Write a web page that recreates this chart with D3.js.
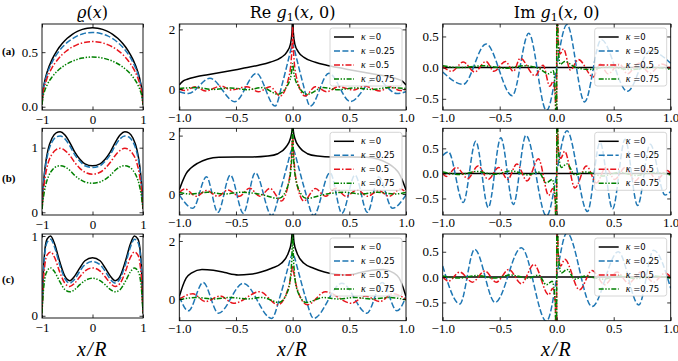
<!DOCTYPE html>
<html><head><meta charset="utf-8">
<script src="https://cdn.jsdelivr.net/npm/d3@7"></script>
<style>body{margin:0;background:#fff}</style>
</head><body>
<script>
// ---------------- DATA ----------------
const kappaLabels = ["0", "0.25", "0.5", "0.75"];
const rowLabels = ["(a)", "(b)", "(c)"];

// density rho(x): shared x grids per row + values per kappa
const rhoXA = [-1,-0.98,-0.95,-0.9,-0.8,-0.7,-0.6,-0.5,-0.4,-0.3,-0.2,-0.1,0,0.1,0.2,0.3,0.4,0.5,0.6,0.7,0.8,0.9,0.95,0.98,1];
const rhoA0  = [0.02,0.144,0.226,0.316,0.434,0.517,0.579,0.627,0.664,0.691,0.709,0.72,0.724,0.72,0.709,0.691,0.664,0.627,0.579,0.517,0.434,0.316,0.226,0.144,0.02];
const rhoA25 = [0.02,0.135,0.212,0.297,0.408,0.486,0.544,0.589,0.623,0.649,0.666,0.677,0.68,0.677,0.666,0.649,0.623,0.589,0.544,0.486,0.408,0.297,0.212,0.135,0.02];
const rhoA50 = [0.02,0.119,0.186,0.26,0.358,0.426,0.478,0.517,0.547,0.569,0.585,0.594,0.597,0.594,0.585,0.569,0.547,0.517,0.478,0.426,0.358,0.26,0.186,0.119,0.02];
const rhoA75 = [0.02,0.091,0.142,0.198,0.273,0.325,0.364,0.394,0.417,0.434,0.446,0.453,0.455,0.453,0.446,0.434,0.417,0.394,0.364,0.325,0.273,0.198,0.142,0.091,0.02];

const rhoXB = [-1,-0.97,-0.93,-0.88,-0.8,-0.72,-0.64,-0.55,-0.45,-0.35,-0.25,-0.15,0,0.15,0.25,0.35,0.45,0.55,0.64,0.72,0.8,0.88,0.93,0.97,1];
const rhoB0  = [0.05,0.45,0.75,0.97,1.15,1.23,1.245,1.2,1.08,0.93,0.82,0.75,0.72,0.75,0.82,0.93,1.08,1.2,1.245,1.23,1.15,0.97,0.75,0.45,0.05];
const rhoB25 = [0.05,0.42,0.71,0.92,1.09,1.165,1.18,1.14,1.03,0.89,0.79,0.72,0.695,0.72,0.79,0.89,1.03,1.14,1.18,1.165,1.09,0.92,0.71,0.42,0.05];
const rhoB50 = [0.05,0.34,0.58,0.76,0.9,0.97,0.99,0.96,0.88,0.77,0.68,0.62,0.59,0.62,0.68,0.77,0.88,0.96,0.99,0.97,0.9,0.76,0.58,0.34,0.05];
const rhoB75 = [0.05,0.24,0.41,0.54,0.65,0.705,0.72,0.705,0.65,0.57,0.51,0.47,0.45,0.47,0.51,0.57,0.65,0.705,0.72,0.705,0.65,0.54,0.41,0.24,0.05];

const rhoXC = [-1,-0.98,-0.95,-0.9,-0.83,-0.75,-0.65,-0.55,-0.45,-0.35,-0.25,-0.15,0,0.15,0.25,0.35,0.45,0.55,0.65,0.75,0.83,0.9,0.95,0.98,1];
const rhoC0  = [0.03,0.45,0.78,0.96,1.0,0.9,0.68,0.5,0.44,0.5,0.6,0.69,0.727,0.69,0.6,0.5,0.44,0.5,0.68,0.9,1.0,0.96,0.78,0.45,0.03];
const rhoC25 = [0.03,0.42,0.74,0.92,0.96,0.86,0.64,0.47,0.41,0.46,0.56,0.64,0.68,0.64,0.56,0.46,0.41,0.47,0.64,0.86,0.96,0.92,0.74,0.42,0.03];
const rhoC50 = [0.03,0.34,0.6,0.76,0.8,0.73,0.55,0.41,0.367,0.41,0.49,0.56,0.6,0.56,0.49,0.41,0.367,0.41,0.55,0.73,0.8,0.76,0.6,0.34,0.03];
const rhoC75 = [0.03,0.25,0.44,0.56,0.6,0.55,0.43,0.33,0.3,0.33,0.39,0.44,0.47,0.44,0.39,0.33,0.3,0.33,0.43,0.55,0.6,0.56,0.44,0.25,0.03];

// Re g1(x,0): [x, value] pairs
const reA0 = [[-1,0.14],[-0.97,0.26],[-0.93,0.33],[-0.85,0.41],[-0.75,0.48],[-0.6,0.58],[-0.5,0.65],[-0.4,0.72],[-0.3,0.8],[-0.2,0.9],[-0.1,1.06],[-0.05,1.25],[-0.02,1.5],[-0.006,1.9],[0,2.5],[0.006,1.9],[0.02,1.5],[0.05,1.25],[0.1,1.06],[0.2,0.9],[0.3,0.8],[0.4,0.72],[0.5,0.65],[0.6,0.58],[0.75,0.48],[0.85,0.41],[0.93,0.33],[0.97,0.26],[1,0.14]];
const reA25 = [[-1,-0.09],[-0.92,-0.15],[-0.73,0.36],[-0.51,-0.42],[-0.32,0.53],[-0.155,-0.57],[-0.09,0.2],[-0.04,0.95],[-0.01,1.4],[0,1.52],[0.01,1.4],[0.04,0.95],[0.09,0.2],[0.155,-0.57],[0.32,0.53],[0.51,-0.42],[0.73,0.36],[0.92,-0.15],[1,-0.09]];
const reA50 = [[-1,0],[-0.95,-0.05],[-0.86,0.08],[-0.77,-0.06],[-0.63,0.1],[-0.54,-0.03],[-0.405,0.08],[-0.3,-0.09],[-0.2,0.08],[-0.11,-0.23],[-0.04,0.3],[-0.012,1.0],[-0.003,1.7],[0,2.1],[0.003,1.7],[0.012,1.0],[0.04,0.3],[0.11,-0.23],[0.2,0.08],[0.3,-0.09],[0.405,0.08],[0.54,-0.03],[0.63,0.1],[0.77,-0.06],[0.86,0.08],[0.95,-0.05],[1,0]];
const reA75 = [[-1,0.02],[-0.85,0.05],[-0.7,-0.01],[-0.55,0.04],[-0.4,-0.02],[-0.27,0.05],[-0.13,-0.17],[-0.05,0.1],[-0.012,0.5],[0,0.85],[0.012,0.5],[0.05,0.1],[0.13,-0.17],[0.27,0.05],[0.4,-0.02],[0.55,0.04],[0.7,-0.01],[0.85,0.05],[1,0.02]];

const reB0 = [[-1,0.14],[-0.97,0.45],[-0.94,0.7],[-0.9,0.88],[-0.84,1.05],[-0.75,1.2],[-0.65,1.26],[-0.5,1.27],[-0.35,1.27],[-0.22,1.3],[-0.13,1.38],[-0.06,1.6],[-0.02,1.9],[-0.005,2.2],[0,2.5],[0.005,2.2],[0.02,1.9],[0.06,1.6],[0.13,1.38],[0.22,1.3],[0.35,1.27],[0.5,1.27],[0.65,1.26],[0.75,1.2],[0.84,1.05],[0.9,0.88],[0.94,0.7],[0.97,0.45],[1,0.14]];
const reB25 = [[-1,-0.03],[-0.88,-0.49],[-0.76,0.59],[-0.66,-0.63],[-0.55,0.65],[-0.435,-0.66],[-0.33,0.73],[-0.185,-0.74],[-0.11,0.1],[-0.05,0.95],[-0.01,1.5],[0,1.57],[0.01,1.5],[0.05,0.95],[0.11,0.1],[0.185,-0.74],[0.33,0.73],[0.435,-0.66],[0.55,0.65],[0.66,-0.63],[0.76,0.59],[0.88,-0.49],[1,-0.03]];
const reB50 = [[-1,0.05],[-0.95,0.17],[-0.85,-0.08],[-0.76,0.12],[-0.66,-0.08],[-0.57,0.14],[-0.47,-0.08],[-0.38,0.2],[-0.29,-0.08],[-0.2,0.19],[-0.1,-0.24],[-0.03,0.5],[-0.008,1.4],[0,1.95],[0.008,1.4],[0.03,0.5],[0.1,-0.24],[0.2,0.19],[0.29,-0.08],[0.38,0.2],[0.47,-0.08],[0.57,0.14],[0.66,-0.08],[0.76,0.12],[0.85,-0.08],[0.95,0.17],[1,0.05]];
const reB75 = [[-1,0.05],[-0.9,0],[-0.75,0.06],[-0.6,0],[-0.45,0.06],[-0.3,0],[-0.12,-0.15],[-0.04,0.3],[-0.008,1.2],[0,2.4],[0.008,1.2],[0.04,0.3],[0.12,-0.15],[0.3,0],[0.45,0.06],[0.6,0],[0.75,0.06],[0.9,0],[1,0.05]];

const reC0 = [[-1,0.08],[-0.97,0.45],[-0.94,0.72],[-0.89,0.9],[-0.8,1.02],[-0.7,0.99],[-0.6,0.91],[-0.48,0.83],[-0.38,0.85],[-0.28,0.93],[-0.185,1.06],[-0.1,1.23],[-0.04,1.57],[-0.012,1.95],[0,2.5],[0.012,1.95],[0.04,1.57],[0.1,1.23],[0.185,1.06],[0.28,0.93],[0.38,0.85],[0.48,0.83],[0.6,0.91],[0.7,0.99],[0.8,1.02],[0.89,0.9],[0.94,0.72],[0.97,0.45],[1,0.08]];
const reC25 = [[-1,0.08],[-0.92,-0.41],[-0.79,0.57],[-0.655,-0.49],[-0.435,0.54],[-0.185,-0.67],[-0.11,0.1],[-0.05,0.95],[-0.01,1.5],[0,1.58],[0.01,1.5],[0.05,0.95],[0.11,0.1],[0.185,-0.67],[0.435,0.54],[0.655,-0.49],[0.79,0.57],[0.92,-0.41],[1,0.08]];
const reC50 = [[-1,0],[-0.88,0.18],[-0.77,-0.09],[-0.64,0.1],[-0.52,-0.15],[-0.29,0.25],[-0.13,-0.2],[-0.04,0.35],[-0.01,0.9],[0,1.15],[0.01,0.9],[0.04,0.35],[0.13,-0.2],[0.29,0.25],[0.52,-0.15],[0.64,0.1],[0.77,-0.09],[0.88,0.18],[1,0]];
const reC75 = [[-1,-0.03],[-0.85,0.05],[-0.7,0],[-0.55,0.05],[-0.4,0],[-0.27,0.05],[-0.12,-0.12],[-0.04,0.3],[-0.008,1.3],[0,2.4],[0.008,1.3],[0.04,0.3],[0.12,-0.12],[0.27,0.05],[0.4,0],[0.55,0.05],[0.7,0],[0.85,0.05],[1,-0.03]];

// Im g1(x,0): [x, value] pairs
const imA0 = [[-1,0],[1,0]];
const imA25 = [[-1,-0.07],[-0.82,-0.27],[-0.62,0.38],[-0.39,-0.45],[-0.245,0.55],[-0.09,-0.69],[0.09,0.69],[0.245,-0.55],[0.39,0.45],[0.62,-0.38],[0.82,0.27],[1,0.07]];
const imA50 = [[-1,0.02],[-0.92,-0.06],[-0.82,0.09],[-0.72,-0.07],[-0.62,0.1],[-0.55,-0.06],[-0.45,0.1],[-0.38,-0.06],[-0.32,0.15],[-0.19,-0.13],[-0.12,0.04],[-0.06,-0.3],[-0.03,-0.22],[-0.012,-0.5],[-0.002,-3],[0.002,3],[0.012,0.5],[0.03,0.22],[0.06,0.3],[0.12,-0.04],[0.19,0.13],[0.32,-0.15],[0.38,0.06],[0.45,-0.1],[0.55,0.06],[0.62,-0.1],[0.72,0.07],[0.82,-0.09],[0.92,0.06],[1,-0.02]];
const imA75 = [[-1,0.03],[-0.85,0],[-0.65,0.03],[-0.45,-0.01],[-0.28,0.03],[-0.16,-0.01],[-0.07,-0.1],[-0.03,-0.05],[-0.01,-0.5],[-0.002,-3],[0.002,3],[0.01,0.5],[0.03,0.05],[0.07,0.1],[0.16,0.01],[0.28,-0.03],[0.45,0.01],[0.65,-0.03],[0.85,0],[1,-0.03]];

const imB0 = [[-1,0],[1,0]];
const imB25 = [[-1,0.36],[-0.95,0.43],[-0.82,-0.58],[-0.71,0.64],[-0.6,-0.68],[-0.49,0.71],[-0.38,-0.62],[-0.27,0.76],[-0.09,-0.85],[0.09,0.85],[0.27,-0.76],[0.38,0.62],[0.49,-0.71],[0.6,0.68],[0.71,-0.64],[0.82,0.58],[0.95,-0.43],[1,-0.36]];
const imB50 = [[-1,0],[-0.97,-0.06],[-0.88,0.12],[-0.78,-0.1],[-0.69,0.15],[-0.6,-0.12],[-0.51,0.12],[-0.43,-0.12],[-0.35,0.19],[-0.26,-0.15],[-0.16,0.29],[-0.07,-0.44],[-0.035,-0.3],[-0.012,-0.55],[-0.002,-3],[0.002,3],[0.012,0.55],[0.035,0.3],[0.07,0.44],[0.16,-0.29],[0.26,0.15],[0.35,-0.19],[0.43,0.12],[0.51,-0.12],[0.6,0.12],[0.69,-0.15],[0.78,0.1],[0.88,-0.12],[0.97,0.06],[1,0]];
const imB75 = [[-1,0.03],[-0.85,-0.02],[-0.7,0.04],[-0.55,-0.02],[-0.4,0.05],[-0.25,-0.03],[-0.16,0.03],[-0.09,-0.19],[-0.04,-0.12],[-0.012,-0.5],[-0.002,-3],[0.002,3],[0.012,0.5],[0.04,0.12],[0.09,0.19],[0.16,-0.03],[0.25,0.03],[0.4,-0.05],[0.55,0.02],[0.7,-0.04],[0.85,0.02],[1,-0.03]];

const imC0 = [[-1,0],[1,0]];
const imC25 = [[-1,0.22],[-0.85,-0.53],[-0.72,0.55],[-0.54,-0.5],[-0.31,0.58],[-0.09,-0.87],[0.09,0.87],[0.31,-0.58],[0.54,0.5],[0.72,-0.55],[0.85,0.53],[1,-0.22]];
const imC50 = [[-1,0],[-0.95,-0.08],[-0.85,0.1],[-0.74,-0.1],[-0.63,0.12],[-0.53,-0.1],[-0.42,0.15],[-0.31,-0.13],[-0.2,0.25],[-0.07,-0.35],[-0.035,-0.22],[-0.012,-0.5],[-0.002,-3],[0.002,3],[0.012,0.5],[0.035,0.22],[0.07,0.35],[0.2,-0.25],[0.31,0.13],[0.42,-0.15],[0.53,0.1],[0.63,-0.12],[0.74,0.1],[0.85,-0.1],[0.95,0.08],[1,0]];
const imC75 = [[-1,0.02],[-0.85,-0.02],[-0.7,0.03],[-0.55,-0.02],[-0.4,0.04],[-0.25,-0.02],[-0.16,0.04],[-0.09,-0.15],[-0.04,-0.08],[-0.012,-0.5],[-0.002,-3],[0.002,3],[0.012,0.5],[0.04,0.08],[0.09,0.15],[0.16,-0.04],[0.25,0.02],[0.4,-0.04],[0.55,0.02],[0.7,-0.03],[0.85,0.02],[1,-0.02]];

// tick values
const rhoXTicks = [-1, 0, 1];
const gXTicks = [-1, -0.5, 0, 0.5, 1];
const rhoYTicks = [[0, 0.5], [0, 1], [0, 1]];
const reYTicks = [0, 2];
const imYTicks = [-0.5, 0, 0.5];

// ---------------- LAYOUT / STYLE ----------------
const W = 678, H = 361;
const colors = ["#000000", "#1f77b4", "#e8141c", "#008000"];
const dashes = [null, "6,2.4", "6,2,1.5,2", "5,1.6,1.4,1.6,1.4,1.6"];
const colX = [[42, 143], [179.3, 406], [442.7, 670.7]];
const rowY = [[[24, 110], [24, 110], [24, 110]],
              [[128.3, 215], [128.3, 215], [128.3, 215]],
              [[234, 318], [234, 320.7], [234, 320.7]]];
const rhoYDom = [[-0.03, 0.758], [-0.042, 1.30], [-0.028, 1.025]];
const reYDom = [[-0.70, 2.18], [-0.72, 2.25], [-0.75, 2.24]];
const imYDom = [[-0.68, 0.70], [-0.83, 0.90], [-0.86, 0.85]];
const SERIF = "'Liberation Serif','DejaVu Serif',serif";

const svg = d3.select("body").append("svg").attr("width", W).attr("height", H).style("display", "block");
svg.append("rect").attr("width", W).attr("height", H).attr("fill", "#fff");

const rhoSeries = [
  [d3.zip(rhoXA, rhoA0), d3.zip(rhoXA, rhoA25), d3.zip(rhoXA, rhoA50), d3.zip(rhoXA, rhoA75)],
  [d3.zip(rhoXB, rhoB0), d3.zip(rhoXB, rhoB25), d3.zip(rhoXB, rhoB50), d3.zip(rhoXB, rhoB75)],
  [d3.zip(rhoXC, rhoC0), d3.zip(rhoXC, rhoC25), d3.zip(rhoXC, rhoC50), d3.zip(rhoXC, rhoC75)]
];
const reSeries = [[reA0, reA25, reA50, reA75], [reB0, reB25, reB50, reB75], [reC0, reC25, reC50, reC75]];
const imSeries = [[imA0, imA25, imA50, imA75], [imB0, imB25, imB50, imB75], [imC0, imC25, imC50, imC75]];

const panels = [];
for (let r = 0; r < 3; r++) {
  panels.push({r, c: 0, ydom: rhoYDom[r], yticks: rhoYTicks[r], yfmt: r === 0 ? d3.format(".1f") : d3.format("d"),
               xticks: rhoXTicks, xfmt: d3.format("d"), series: rhoSeries[r], legend: false, xpad: 5});
  panels.push({r, c: 1, ydom: reYDom[r], yticks: reYTicks, yfmt: d3.format("d"),
               xticks: gXTicks, xfmt: d3.format(".1f"), series: reSeries[r], legend: true, xpad: 3});
  panels.push({r, c: 2, ydom: imYDom[r], yticks: imYTicks, yfmt: d3.format(".1f"),
               xticks: gXTicks, xfmt: d3.format(".1f"), series: imSeries[r], legend: true, xpad: 3});
}

const defs = svg.append("defs");

panels.forEach((p, i) => {
  const [x0, x1] = colX[p.c];
  const [y0, y1] = rowY[p.r][p.c];
  const xs = d3.scaleLinear().domain([-1, 1]).range([x0, x1]);
  const ys = d3.scaleLinear().domain(p.ydom).range([y1, y0]);
  const g = svg.append("g");

  defs.append("clipPath").attr("id", "clip" + i)
    .append("rect").attr("x", x0).attr("y", y0).attr("width", x1 - x0).attr("height", y1 - y0);

  const line = d3.line().x(d => xs(d[0])).y(d => ys(d[1])).curve(d3.curveMonotoneX);
  const lg = g.append("g").attr("clip-path", `url(#clip${i})`);
  p.series.forEach((s, k) => {
    lg.append("path").datum(s).attr("d", line)
      .attr("fill", "none").attr("stroke", colors[k]).attr("stroke-width", 1.5)
      .attr("stroke-dasharray", dashes[k]);
  });

  if (p.legend) {
    const w = 72, h = 58;
    const leg = g.append("g").attr("transform", `translate(${x1 - 4 - w},${y0 + 4})`);
    leg.append("rect").attr("width", w).attr("height", h).attr("rx", 2.5)
      .attr("fill", "#fff").attr("fill-opacity", 0.8).attr("stroke", "#cccccc").attr("stroke-width", 0.8);
    kappaLabels.forEach((kl, k) => {
      const yy = 9 + k * 14;
      leg.append("line").attr("x1", 4).attr("x2", 24).attr("y1", yy).attr("y2", yy)
        .attr("stroke", colors[k]).attr("stroke-width", 1.5).attr("stroke-dasharray", dashes[k]);
      const t = leg.append("text").attr("x", 31).attr("y", yy + 3)
        .attr("font-family", "'DejaVu Sans',sans-serif").attr("font-size", 8.5).attr("fill", "#000");
      t.append("tspan").attr("font-family", SERIF).attr("font-style", "italic").attr("font-size", 10).text("κ");
      t.append("tspan").text(" =" + kl);
    });
  }

  // axes with inward ticks on all sides
  const tick = 3.5;
  const styleAxis = sel => {
    sel.select(".domain").remove();
    sel.selectAll(".tick line").attr("stroke", "#000").attr("stroke-width", 0.8);
    sel.selectAll(".tick text").attr("font-family", SERIF).attr("font-size", 13).attr("fill", "#000");
  };
  g.append("g").attr("transform", `translate(0,${y1})`)
    .call(d3.axisBottom(xs).tickValues(p.xticks).tickFormat(p.xfmt).tickSize(-tick).tickPadding(p.xpad))
    .call(styleAxis);
  g.append("g").attr("transform", `translate(0,${y0})`)
    .call(d3.axisTop(xs).tickValues(p.xticks).tickFormat("").tickSize(-tick))
    .call(styleAxis);
  g.append("g").attr("transform", `translate(${x0},0)`)
    .call(d3.axisLeft(ys).tickValues(p.yticks).tickFormat(p.yfmt).tickSize(-tick).tickPadding(4))
    .call(styleAxis);
  g.append("g").attr("transform", `translate(${x1},0)`)
    .call(d3.axisRight(ys).tickValues(p.yticks).tickFormat("").tickSize(-tick))
    .call(styleAxis);

  g.append("rect").attr("x", x0).attr("y", y0).attr("width", x1 - x0).attr("height", y1 - y0)
    .attr("fill", "none").attr("stroke", "#000").attr("stroke-width", 0.9);
});

// titles
const colCenters = colX.map(c => (c[0] + c[1]) / 2);
const titleFont = "'DejaVu Serif',serif";
const t0 = svg.append("text").attr("x", colCenters[0]).attr("y", 18).attr("text-anchor", "middle")
  .attr("font-family", titleFont).attr("font-size", 16);
t0.append("tspan").attr("font-style", "italic").text("ϱ");
t0.append("tspan").text("(");
t0.append("tspan").attr("font-style", "italic").text("x");
t0.append("tspan").text(")");

["Re", "Im"].forEach((nm, j) => {
  const t = svg.append("text").attr("x", colCenters[j + 1]).attr("y", 18).attr("text-anchor", "middle")
    .attr("font-family", titleFont).attr("font-size", 16);
  t.append("tspan").text(nm + " ");
  t.append("tspan").attr("font-style", "italic").text("g");
  t.append("tspan").attr("font-size", 11).attr("dy", 3).text("1");
  t.append("tspan").attr("dy", -3).text("(");
  t.append("tspan").attr("font-style", "italic").text("x");
  t.append("tspan").text(", 0)");
});

// row labels
const rowLabelY = [55, 182, 283];
rowLabels.forEach((lb, r) => {
  svg.append("text").attr("x", 2).attr("y", rowLabelY[r]).attr("font-family", SERIF)
    .attr("font-weight", "bold").attr("font-size", 11).text(lb);
});

// x axis labels
colCenters.forEach(cx => {
  const t = svg.append("text").attr("x", cx).attr("y", 356).attr("text-anchor", "middle")
    .attr("font-family", SERIF).attr("font-size", 20).attr("font-style", "italic").attr("letter-spacing", 1.5);
  t.text("x/R");
});
</script>
</body></html>
